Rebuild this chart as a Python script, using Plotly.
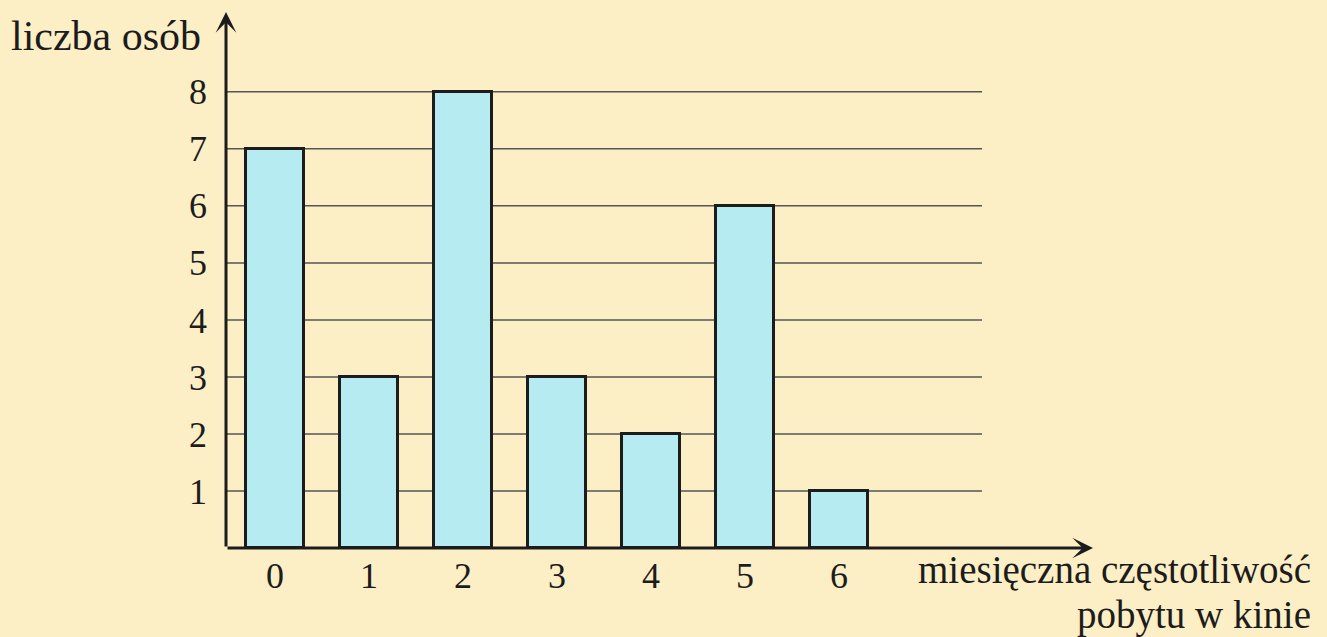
import plotly.graph_objects as go

# data
categories = [0, 1, 2, 3, 4, 5, 6]
counts = [7, 3, 8, 3, 2, 6, 1]
y_ticks = [1, 2, 3, 4, 5, 6, 7, 8]
x_title_lines = ["miesięczna częstotliwość", "pobytu w kinie"]
y_title = "liczba osób"

BG = "#fcefc5"
BAR = "#b6ebf1"
INK = "#1c1c1c"
GRID = "#555555"
FONT = "Liberation Serif"

XMIN, XMAX = -0.52, 8.7
GRID_END = 7.52
YMAX = 9.4

fig = go.Figure()
fig.add_trace(go.Bar(
    x=categories, y=counts, width=0.62,
    marker=dict(color=BAR, line=dict(color=INK, width=3)),
    hoverinfo="skip",
))

shapes = []
for v in y_ticks:
    shapes.append(dict(type="line", xref="x", yref="y", x0=XMIN, x1=GRID_END, y0=v, y1=v,
                       line=dict(color=GRID, width=1.5), layer="below"))

annotations = [
    dict(x=XMAX, y=0, ax=XMIN, ay=0, xref="x", yref="y", axref="x", ayref="y",
         showarrow=True, arrowhead=3, arrowsize=1.15, arrowwidth=3, arrowcolor=INK, text=""),
    dict(x=XMIN, y=YMAX, ax=XMIN, ay=0, xref="x", yref="y", axref="x", ayref="y",
         showarrow=True, arrowhead=3, arrowsize=1.15, arrowwidth=3, arrowcolor=INK, text=""),
    dict(text=y_title, xref="paper", yref="paper", x=-0.0265, y=0.955,
         xanchor="right", yanchor="middle", showarrow=False,
         font=dict(family=FONT, size=42, color=INK)),
    dict(text=x_title_lines[0], xref="paper", yref="paper", x=1.2526, y=-0.0392,
         xanchor="right", yanchor="middle", showarrow=False, borderpad=0,
         font=dict(family=FONT, size=39, color=INK)),
    dict(text=x_title_lines[1], xref="paper", yref="paper", x=1.2526, y=-0.1250,
         xanchor="right", yanchor="middle", showarrow=False, borderpad=0,
         font=dict(family=FONT, size=39, color=INK)),
]

fig.update_layout(
    width=1327, height=637,
    margin=dict(l=226, r=234, t=12, b=89),
    paper_bgcolor=BG, plot_bgcolor=BG,
    showlegend=False,
    shapes=shapes, annotations=annotations,
    bargap=0,
)
fig.update_xaxes(range=[XMIN, XMAX], tickvals=categories, ticktext=[str(c) for c in categories],
                 showgrid=False, zeroline=False, showline=False, ticks="",
                 ticklabelstandoff=3,
                 tickfont=dict(family=FONT, size=36, color=INK), fixedrange=True)
fig.update_yaxes(range=[0, YMAX], tickvals=y_ticks, ticktext=[str(v) for v in y_ticks],
                 showgrid=False, zeroline=False, showline=False, ticks="",
                 ticklabelstandoff=18,
                 tickfont=dict(family=FONT, size=36, color=INK), fixedrange=True)

fig.write_html("out.html", config={"displayModeBar": False},
               post_script="document.body.style.margin='0';document.body.style.background='%s';" % BG)
